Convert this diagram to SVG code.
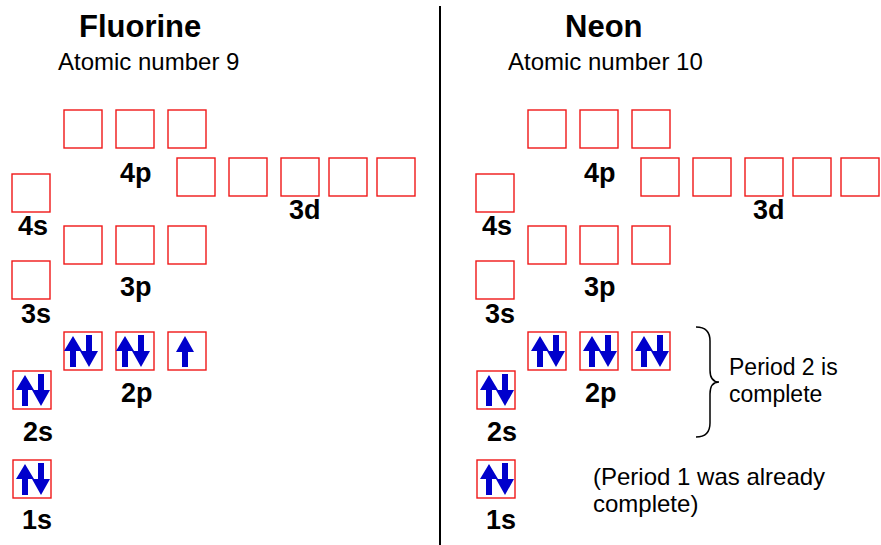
<svg xmlns="http://www.w3.org/2000/svg" xmlns:xlink="http://www.w3.org/1999/xlink" width="881" height="545" viewBox="0 0 881 545">
<style>
.orb{fill:#fff;stroke:#f01818;stroke-width:1.4}
.e{fill:#0000cc}
.title{font-family:"Liberation Sans",Arial,sans-serif;font-weight:bold;font-size:31px;fill:#000}
.sub{font-family:"Liberation Sans",Arial,sans-serif;font-size:24px;fill:#000}
.lbl{font-family:"Liberation Sans",Arial,sans-serif;font-weight:bold;font-size:27px;fill:#000}
.note{font-family:"Liberation Sans",Arial,sans-serif;font-size:23px;fill:#000}
</style>
<defs>
<path id="up" class="e" d="M12 4 L21 19 L15 19 L15 35 L9 35 L9 19 L3 19 Z"/>
<path id="dn" class="e" d="M28 35 L37 19 L31 19 L31 3 L25 3 L25 19 L19 19 Z"/>
<path id="up1" class="e" d="M17 4 L26 20 L20 20 L20 35 L14 35 L14 20 L8 20 Z"/>
</defs>
<rect width="881" height="545" fill="#fff"/>

<g id="fluorine-title">
<text class="title" x="79" y="37">Fluorine</text>
<text class="sub" x="58" y="70">Atomic number 9</text>
</g>
<g id="neon-title">
<text class="title" x="565" y="37">Neon</text>
<text class="sub" x="508" y="70">Atomic number 10</text>
</g>

<g id="divider"><line x1="440" y1="6" x2="440" y2="545" stroke="#000" stroke-width="2"/></g>

<!-- Fluorine -->
<g id="F-4p">
<rect class="orb" x="64" y="110" width="38" height="38"/>
<rect class="orb" x="116" y="110" width="38" height="38"/>
<rect class="orb" x="168" y="110" width="38" height="38"/>
<text class="lbl" x="120" y="182">4p</text>
</g>
<g id="F-3d">
<rect class="orb" x="177" y="158" width="38" height="38"/>
<rect class="orb" x="229" y="158" width="38" height="38"/>
<rect class="orb" x="281" y="158" width="38" height="38"/>
<rect class="orb" x="329" y="158" width="38" height="38"/>
<rect class="orb" x="377" y="158" width="38" height="38"/>
<text class="lbl" x="289" y="219">3d</text>
</g>
<g id="F-4s">
<rect class="orb" x="12" y="174" width="38" height="38"/>
<text class="lbl" x="18" y="235">4s</text>
</g>
<g id="F-3p">
<rect class="orb" x="64" y="226" width="38" height="38"/>
<rect class="orb" x="116" y="226" width="38" height="38"/>
<rect class="orb" x="168" y="226" width="38" height="38"/>
<text class="lbl" x="120" y="296">3p</text>
</g>
<g id="F-3s">
<rect class="orb" x="12" y="261" width="38" height="38"/>
<text class="lbl" x="21" y="323">3s</text>
</g>
<g id="F-2p">
<rect class="orb" x="64" y="332" width="38" height="38"/>
<rect class="orb" x="116" y="332" width="38" height="38"/>
<rect class="orb" x="168" y="332" width="38" height="38"/>
<use href="#up" x="61" y="332"/><use href="#dn" x="61" y="332"/>
<use href="#up" x="113" y="332"/><use href="#dn" x="113" y="332"/>
<use href="#up1" x="168" y="332"/>
<text class="lbl" x="121" y="402">2p</text>
</g>
<g id="F-2s">
<rect class="orb" x="13" y="371" width="38" height="38"/>
<use href="#up" x="13" y="371"/><use href="#dn" x="13" y="371"/>
<text class="lbl" x="23" y="441">2s</text>
</g>
<g id="F-1s">
<rect class="orb" x="13" y="460" width="38" height="38"/>
<use href="#up" x="13" y="460"/><use href="#dn" x="13" y="460"/>
<text class="lbl" x="22" y="529">1s</text>
</g>

<!-- Neon -->
<g id="Ne-4p">
<rect class="orb" x="528" y="110" width="38" height="38"/>
<rect class="orb" x="580" y="110" width="38" height="38"/>
<rect class="orb" x="632" y="110" width="38" height="38"/>
<text class="lbl" x="584" y="182">4p</text>
</g>
<g id="Ne-3d">
<rect class="orb" x="641" y="158" width="38" height="38"/>
<rect class="orb" x="693" y="158" width="38" height="38"/>
<rect class="orb" x="745" y="158" width="38" height="38"/>
<rect class="orb" x="793" y="158" width="38" height="38"/>
<rect class="orb" x="841" y="158" width="38" height="38"/>
<text class="lbl" x="753" y="219">3d</text>
</g>
<g id="Ne-4s">
<rect class="orb" x="476" y="174" width="38" height="38"/>
<text class="lbl" x="482" y="235">4s</text>
</g>
<g id="Ne-3p">
<rect class="orb" x="528" y="226" width="38" height="38"/>
<rect class="orb" x="580" y="226" width="38" height="38"/>
<rect class="orb" x="632" y="226" width="38" height="38"/>
<text class="lbl" x="584" y="296">3p</text>
</g>
<g id="Ne-3s">
<rect class="orb" x="476" y="261" width="38" height="38"/>
<text class="lbl" x="485" y="323">3s</text>
</g>
<g id="Ne-2p">
<rect class="orb" x="528" y="332" width="38" height="38"/>
<rect class="orb" x="580" y="332" width="38" height="38"/>
<rect class="orb" x="632" y="332" width="38" height="38"/>
<use href="#up" x="528" y="332"/><use href="#dn" x="528" y="332"/>
<use href="#up" x="580" y="332"/><use href="#dn" x="580" y="332"/>
<use href="#up" x="632" y="332"/><use href="#dn" x="632" y="332"/>
<text class="lbl" x="585" y="402">2p</text>
</g>
<g id="Ne-2s">
<rect class="orb" x="477" y="371" width="38" height="38"/>
<use href="#up" x="477" y="371"/><use href="#dn" x="477" y="371"/>
<text class="lbl" x="487" y="441">2s</text>
</g>
<g id="Ne-1s">
<rect class="orb" x="477" y="460" width="38" height="38"/>
<use href="#up" x="477" y="460"/><use href="#dn" x="477" y="460"/>
<text class="lbl" x="486" y="529">1s</text>
</g>

<g id="period2-brace">
<path d="M696 327 Q710 327 710 341 L710 370 Q710 382 719 382 Q710 382 710 394 L710 423 Q710 437 696 437" fill="none" stroke="#000" stroke-width="1.5"/>
<text class="note" x="729" y="375">Period 2 is</text>
<text class="note" x="729" y="402">complete</text>
</g>
<g id="period1-note">
<text class="note" x="593" y="485" style="font-size:24px">(Period 1 was already</text>
<text class="note" x="593" y="512" style="font-size:24px">complete)</text>
</g>
</svg>
